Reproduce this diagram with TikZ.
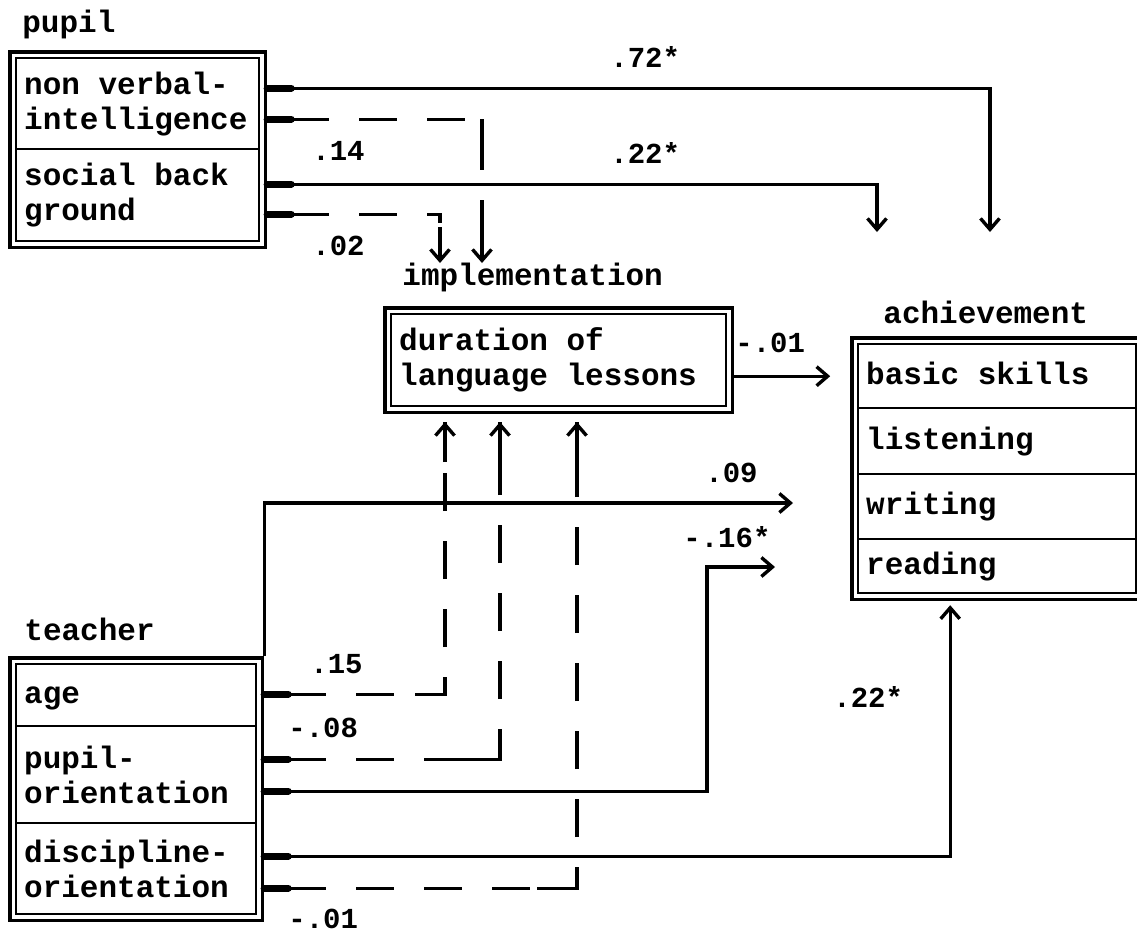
\documentclass[tikz,border=0pt]{standalone}
\usepackage{fontspec}
\setmonofont{Liberation Mono}
\usetikzlibrary{arrows.meta,fit}
\begin{document}
\begin{tikzpicture}[x=0.5pt,y=-0.5pt,
  every node/.style={font=\ttfamily\bfseries\fontsize{15.5}{17.5}\selectfont,
    execute at begin node={\spaceskip=0.6em\xspaceskip=0.6em\relax}},
  row/.style={draw, line width=1.2pt, rectangle, anchor=north west, inner xsep=4pt, inner ysep=0pt, align=left},
  onerow/.style={row, text height=11pt, text depth=3pt},
  outerbox/.style={draw, line width=1.8pt, rectangle, inner sep=2.5pt},
  heading/.style={anchor=base west, inner sep=0pt},
  coef/.style={anchor=base west, inner sep=0pt, font=\ttfamily\bfseries\fontsize{14.5}{16}\selectfont},
  conn/.style={line width=1.7pt},
  dconn/.style={line width=1.7pt, dash pattern=on 19pt off 15pt},
  tip/.style={-{Straight Barb[length=5.5pt,width=9.5pt]}},
  stub/.style={line width=3.6pt, line cap=round}
]
\useasboundingbox (0,0) rectangle (1137,934);

% ---------- pupil ----------
\node[heading] (lpupil) at (22,32) {pupil};
\node[row, text width=113.5pt, minimum height=45.5pt] (nvi) at (15,57) {non verbal-\\intelligence};
\node[row, text width=113.5pt, minimum height=46pt] (sbg) at (15,148) {social back\\ground};
\node[outerbox, fit=(nvi)(sbg)] (pupil) {};

% ---------- implementation ----------
\node[heading] (limpl) at (402,285) {implementation};
\node[row, text width=159.5pt, minimum height=46pt] (dur) at (390,313) {duration of\\language lessons};
\node[outerbox, fit=(dur)] (impl) {};

% ---------- achievement ----------
\node[heading] (lach) at (883,323) {achievement};
\node[onerow, text width=131pt, minimum height=32pt] (basic) at (857,343) {basic skills};
\node[onerow, text width=131pt, minimum height=33pt] (listen) at (857,407) {listening};
\node[onerow, text width=131pt, minimum height=32.5pt] (write) at (857,473) {writing};
\node[onerow, text width=131pt, minimum height=27pt] (read) at (857,538) {reading};
\node[outerbox, fit=(basic)(read)] (ach) {};

% ---------- teacher ----------
\node[heading] (lteach) at (24,640) {teacher};
\node[onerow, text width=112pt, minimum height=31pt] (age) at (15,663) {age};
\node[row, text width=112pt, minimum height=48.5pt] (po) at (15,725) {pupil-\\orientation};
\node[row, text width=112pt, minimum height=45.5pt] (dO) at (15,822) {discipline-\\orientation};
\node[outerbox, fit=(age)(po)(dO)] (teacher) {};

% ---------- connector start points ----------
\coordinate (p1) at ([yshift=30.75pt]pupil.east);
\coordinate (p2) at ([yshift=15.25pt]pupil.east);
\coordinate (p3) at ([yshift=-17.25pt]pupil.east);
\coordinate (p4) at ([yshift=-32.25pt]pupil.east);
\coordinate (s1) at ([yshift=-8pt]impl.east);
\coordinate (t1) at ([yshift=47.5pt]teacher.east);
\coordinate (t2) at ([yshift=15pt]teacher.east);
\coordinate (t3) at ([yshift=-1pt]teacher.east);
\coordinate (t4) at ([yshift=-33.5pt]teacher.east);
\coordinate (t5) at ([yshift=-49.5pt]teacher.east);

% ---------- free ends ----------
\coordinate (e72) at (990,232);
\coordinate (e22) at (877,232);
\coordinate (e14) at (482,263);
\coordinate (e02) at (440,263);
\coordinate (e09) at (793,503);
\coordinate (e15) at (445,422);
\coordinate (e08) at (500,422);
\coordinate (e01) at (577,422);
\coordinate (c16) at (707,567);
\coordinate (e16) at (775,567);

% ---------- stubs ----------
\foreach \s in {p1,p2,p3,p4,t1,t2,t3,t4,t5}
  \draw[stub] (\s) -- ++(24,0);

% ---------- pupil connectors ----------
\draw[conn,tip] (p1) -| (e72);
\draw[conn,tip] (p3) -| (e22);
\draw[dconn] (p2) ++(24,0) -| (e14);
\draw[conn] (p2 -| e14) -- ++(0,30);
\draw[conn,tip] ([yshift=20pt]e14) -- (e14);
\draw[dconn] (p4) ++(24,0) -| ([yshift=20pt]e02);
\draw[conn,tip] ([yshift=18pt]e02) -- (e02);

% ---------- implementation -> achievement ----------
\draw[conn,tip,shorten >=10pt] (s1) -- (ach.west |- s1);

% ---------- teacher connectors ----------
\draw[conn,tip] (teacher.north east) |- (e09);
\draw[dconn] (t1) ++(24,0) -| (e15);
\draw[conn] (t1 -| e15) -- ++(-30,0);
\draw[conn,tip] ([yshift=-20pt]e15) -- (e15);
\draw[dconn] (t2) ++(24,0) -| (e08);
\draw[conn] (t2 -| e08) -- ++(-50,0);
\draw[conn,tip] ([yshift=-20pt]e08) -- (e08);
\draw[dconn] (t5) ++(24,0) -| (e01);
\draw[conn] (t5 -| e01) -- ++(-40,0);
\draw[conn,tip] ([yshift=-20pt]e01) -- (e01);
\draw[conn,tip] (t3) -| (c16) -- (e16);
\draw[conn,tip,shorten >=2pt] (t4) -| ([xshift=-23.5pt]ach.south);

% ---------- coefficients ----------
\node[coef] (k72) at (610,67) {.72*};
\node[coef] (k22a) at (610,163) {.22*};
\node[coef] (k14) at (312,160) {.14};
\node[coef] (k02) at (312,255) {.02};
\node[coef] (k01a) at (735,352) {-.01};
\node[coef] (k09) at (705,482) {.09};
\node[coef] (k16) at (683,547) {-.16*};
\node[coef] (k15) at (310,673) {.15};
\node[coef] (k08) at (288,737) {-.08};
\node[coef] (k01b) at (288,928) {-.01};
\node[coef] (k22b) at (833,707) {.22*};
\end{tikzpicture}
\end{document}
